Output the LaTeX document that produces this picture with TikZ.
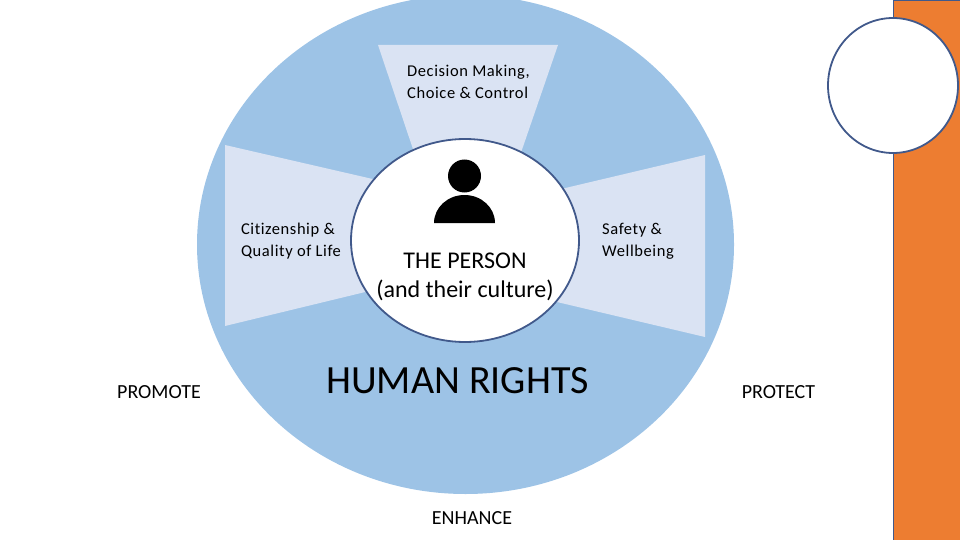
\documentclass[tikz,border=0pt]{standalone}
\usepackage{fontspec}
\setmainfont{Carlito}
\newfontfamily\widefont[LetterSpace=3.5, Ligatures=NoCommon]{Carlito}
\usetikzlibrary{shapes.geometric, positioning}
\definecolor{ringblue}{HTML}{9DC3E6}
\definecolor{paleblue}{HTML}{DAE3F3}
\definecolor{edgeblue}{HTML}{41598B}
\definecolor{sideorange}{HTML}{ED7D31}

\begin{document}
\begin{tikzpicture}[
    x=1pt, y=-1pt,
    ring/.style={ellipse, minimum width=537pt, minimum height=499pt, inner sep=0pt, outer sep=0pt, fill=ringblue},
    wedge/.style={fill=paleblue},
    hub/.style={ellipse, minimum width=228pt, minimum height=203pt, inner sep=0pt, draw=edgeblue, line width=1.8pt, fill=white},
    badge/.style={ellipse, minimum width=130pt, minimum height=135pt, inner sep=0pt, draw=edgeblue, line width=1.8pt, fill=white},
    label/.style={align=left, font=\widefont\fontsize{16.5}{22}\selectfont, inner sep=0pt},
    action/.style={font=\fontsize{20}{24}\selectfont, inner sep=0pt},
]
\useasboundingbox (0,0) rectangle (960,540);

% Side bar
\node[rectangle, minimum width=67pt, minimum height=541pt, inner sep=0pt, draw=edgeblue, line width=1pt, fill=sideorange, anchor=north west] (bar) at (893,0) {};
\node[badge] (badge) at (893,85.5) {};

% Main ring
\node[ring] (main) at (465.5,244.5) {};

% Wedges
\fill[wedge] (378,45) -- (558,45) -- (515,170) -- (420,170) -- cycle;
\fill[wedge] (225,145) -- (225,326) -- (390,286) -- (390,183) -- cycle;
\fill[wedge] (705,155) -- (705,337) -- (540,298) -- (540,194) -- cycle;

% Person
\node[hub] (person) at (465,240.5) {};
\node[circle, minimum size=33pt, inner sep=0pt, fill=black] (head) at (464.5,176) {};
\fill[black] (434,223) arc[start angle=180, end angle=0, x radius=30.5, y radius=-28] -- cycle;

% Labels
\node[align=center, font=\fontsize{24}{29}\selectfont, inner sep=0pt] (self) at (465,277) {THE PERSON\\(and their culture)};
\node[label] (choice) at (468.5,82) {Decision Making,\\Choice \& Control};
\node[label] (citizen) at (291,241) {Citizenship \&\\Quality of Life};
\node[label] (safety) at (638,241.5) {Safety \&\\Wellbeing};
\node[font=\fontsize{40}{46}\selectfont, inner sep=0pt] (rights) at (457.5,380.5) {HUMAN RIGHTS};
\node[action] (promote) at (159,392) {PROMOTE};
\node[action] (protect) at (778.5,392) {PROTECT};
\node[action] (enhance) at (472,518) {ENHANCE};

\end{tikzpicture}
\end{document}
